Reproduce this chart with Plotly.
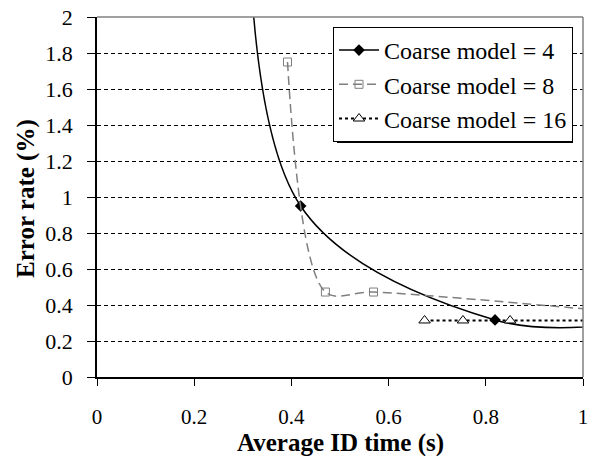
import plotly.graph_objects as go

# ---- data ----
coarse4_x = [0.31, 0.419, 0.819, 1.06]
coarse4_y = [3.0, 0.95, 0.317, 0.29]

coarse8_x = [0.392, 0.470, 0.569, 1.20]
coarse8_y = [1.75, 0.472, 0.472, 0.33]

coarse16_x = [0.674, 0.753, 0.850, 1.10]
coarse16_y = [0.314, 0.314, 0.314, 0.314]

x_ticks = [0, 0.2, 0.4, 0.6, 0.8, 1]
y_ticks = [0, 0.2, 0.4, 0.6, 0.8, 1, 1.2, 1.4, 1.6, 1.8, 2]

x_title = "Average ID time (s)"
y_title = "Error rate (%)"

FONT = "Liberation Serif"

# plot-area geometry in pixels (used only to place the legend shadow / titles)
L, R, T, B = 97, 583, 17, 377
W, H = R - L, B - T
def px(xp):
    return (xp - L) / W
def py(yp):
    return (B - yp) / H

fig = go.Figure()
fig.add_trace(go.Scatter(
    x=coarse4_x, y=coarse4_y, name="Coarse model = 4",
    mode="lines+markers", line=dict(color="black", width=1.5, shape="spline", smoothing=1.0),
    marker=dict(symbol="diamond", size=9, color="black")))
fig.add_trace(go.Scatter(
    x=coarse8_x, y=coarse8_y, name="Coarse model = 8",
    mode="lines+markers", line=dict(color="#7f7f7f", width=1.5, dash="9px,5px", shape="spline", smoothing=0.9),
    marker=dict(symbol="square-open", size=8, color="#7f7f7f", line=dict(width=1))))
fig.add_trace(go.Scatter(
    x=coarse16_x, y=coarse16_y, name="Coarse model = 16",
    mode="lines+markers", line=dict(color="black", width=2, dash="3px,3px"),
    marker=dict(symbol="triangle-up", size=10, color="white", line=dict(color="black", width=1))))

fig.update_layout(
    template="none",
    width=596, height=456, autosize=False,
    margin=dict(l=L, r=596 - R, t=T, b=456 - B, autoexpand=False),
    paper_bgcolor="white", plot_bgcolor="white",
    font=dict(family=FONT, size=22, color="black"),
    showlegend=True,
    legend=dict(x=px(333), y=py(27), xanchor="left", yanchor="top",
                bgcolor="white", bordercolor="black", borderwidth=1,
                font=dict(family=FONT, size=24, color="black"),
                itemwidth=40, tracegroupgap=0),
    xaxis=dict(range=[0, 1], tickvals=x_ticks, ticktext=[str(v) if v not in (0, 1) else str(int(v)) for v in x_ticks],
               tickfont=dict(family=FONT, size=21, color="black"),
               showgrid=False, zeroline=False, showline=True, linecolor="black", linewidth=1.5,
               ticks="outside", ticklen=7, tickcolor="black", ticklabelstandoff=13, automargin=False),
    yaxis=dict(range=[0, 2], tickvals=y_ticks, ticktext=[str(v) if v not in (0, 1, 2) else str(int(v)) for v in y_ticks],
               tickfont=dict(family=FONT, size=22, color="black"),
               showgrid=True, gridcolor="black", gridwidth=1, griddash="4px,3px",
               zeroline=False, showline=True, linecolor="black", linewidth=1.5,
               ticks="outside", ticklen=8, tickcolor="black", ticklabelstandoff=10, automargin=False),
    annotations=[
        dict(text=f"<b>{x_title}</b>", xref="paper", yref="paper", x=0.5, y=py(443),
             xanchor="center", yanchor="middle", showarrow=False,
             font=dict(family=FONT, size=25, color="black")),
        dict(text=f"<b>{y_title}</b>", xref="paper", yref="paper", x=px(26), y=py(199),
             xanchor="center", yanchor="middle", showarrow=False, textangle=-90,
             font=dict(family=FONT, size=25, color="black")),
    ],
    shapes=[
        dict(type="line", xref="paper", yref="paper", x0=0, x1=1, y0=1, y1=1,
             line=dict(color="#808080", width=1.5), layer="above"),
        dict(type="line", xref="paper", yref="paper", x0=1, x1=1, y0=0, y1=1,
             line=dict(color="#808080", width=1.5), layer="above"),
        # legend drop shadow
        dict(type="rect", xref="paper", yref="paper",
             x0=px(337), x1=px(573), y0=py(143), y1=py(31),
             fillcolor="black", line=dict(width=0), layer="above"),
    ],
)

fig.write_html("out.html")
